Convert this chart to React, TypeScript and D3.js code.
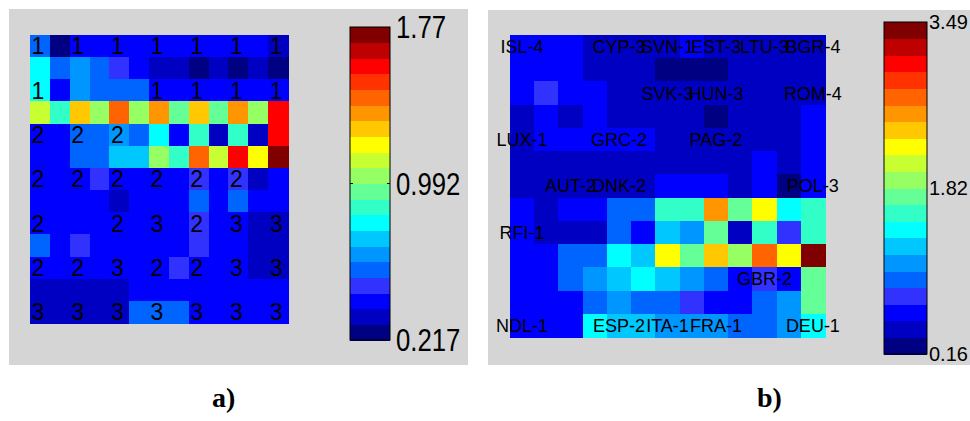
import React from 'react';
import * as d3 from 'd3';

// ---------- Data ----------
const A_MIN = 0.217;
const A_MAX = 1.77;
const A_TICK_VALUES = [0.217, 0.9935, 1.77];
const A_TICK_LABELS = ['0.217', '0.992', '1.77'];
const A_VALUES: number[][] = [
  [0.57, 0.26, 0.41, 0.41, 0.41, 0.41, 0.41, 0.41, 0.41, 0.41, 0.41, 0.41, 0.33],
  [0.80, 0.57, 0.64, 0.57, 0.49, 0.41, 0.33, 0.33, 0.26, 0.33, 0.26, 0.33, 0.26],
  [0.80, 0.41, 0.64, 0.57, 0.57, 0.57, 0.41, 0.41, 0.41, 0.41, 0.41, 0.41, 0.41],
  [1.11, 0.88, 1.27, 1.03, 1.42, 1.03, 1.34, 0.96, 1.27, 0.96, 1.34, 1.03, 1.58],
  [0.41, 0.41, 0.57, 0.57, 0.64, 0.57, 0.80, 0.41, 0.88, 0.33, 0.88, 0.33, 1.58],
  [0.41, 0.41, 0.57, 0.57, 0.72, 0.72, 1.03, 0.88, 1.42, 1.11, 1.58, 1.19, 1.73],
  [0.41, 0.41, 0.41, 0.49, 0.41, 0.41, 0.41, 0.41, 0.49, 0.41, 0.49, 0.33, 0.41],
  [0.41, 0.41, 0.41, 0.41, 0.33, 0.41, 0.41, 0.41, 0.57, 0.41, 0.57, 0.41, 0.41],
  [0.41, 0.41, 0.41, 0.41, 0.41, 0.41, 0.41, 0.41, 0.49, 0.41, 0.41, 0.33, 0.33],
  [0.57, 0.41, 0.49, 0.41, 0.41, 0.41, 0.41, 0.41, 0.49, 0.41, 0.41, 0.33, 0.33],
  [0.41, 0.41, 0.41, 0.41, 0.41, 0.41, 0.41, 0.49, 0.41, 0.41, 0.41, 0.33, 0.33],
  [0.33, 0.33, 0.33, 0.33, 0.33, 0.41, 0.41, 0.41, 0.41, 0.41, 0.41, 0.41, 0.41],
  [0.33, 0.33, 0.33, 0.33, 0.33, 0.57, 0.57, 0.57, 0.41, 0.41, 0.41, 0.41, 0.41],
];
// [row, col, text]
const A_LABELS: [number, number, string][] = [
  [0, 0, '1'], [0, 2, '1'], [0, 4, '1'], [0, 6, '1'], [0, 8, '1'], [0, 10, '1'], [0, 12, '1'],
  [2, 0, '1'], [2, 6, '1'], [2, 8, '1'], [2, 10, '1'], [2, 12, '1'],
  [4, 0, '2'], [4, 2, '2'], [4, 4, '2'],
  [6, 0, '2'], [6, 2, '2'], [6, 4, '2'], [6, 6, '2'], [6, 8, '2'], [6, 10, '2'],
  [8, 0, '2'], [8, 4, '2'], [8, 6, '3'], [8, 8, '2'], [8, 10, '3'], [8, 12, '3'],
  [10, 0, '2'], [10, 2, '2'], [10, 4, '3'], [10, 6, '2'], [10, 8, '2'], [10, 10, '3'], [10, 12, '3'],
  [12, 0, '3'], [12, 2, '3'], [12, 4, '3'], [12, 6, '3'], [12, 8, '3'], [12, 10, '3'], [12, 12, '3'],
];

const B_MIN = 0.16;
const B_MAX = 3.49;
const B_TICK_VALUES = [0.16, 1.825, 3.49];
const B_TICK_LABELS = ['0.16', '1.82', '3.49'];
const B_VALUES: number[][] = [
  [0.58, 0.58, 0.58, 0.40, 0.40, 0.40, 0.40, 0.58, 0.40, 0.40, 0.40, 0.40, 0.40],
  [0.58, 0.58, 0.58, 0.40, 0.40, 0.40, 0.24, 0.24, 0.24, 0.40, 0.40, 0.40, 0.40],
  [0.58, 0.74, 0.58, 0.58, 0.40, 0.40, 0.40, 0.40, 0.40, 0.40, 0.40, 0.40, 0.40],
  [0.40, 0.58, 0.40, 0.58, 0.40, 0.40, 0.40, 0.40, 0.24, 0.40, 0.40, 0.40, 0.58],
  [0.40, 0.58, 0.58, 0.58, 0.58, 0.58, 0.40, 0.40, 0.40, 0.40, 0.40, 0.40, 0.58],
  [0.40, 0.40, 0.40, 0.40, 0.40, 0.40, 0.40, 0.40, 0.40, 0.40, 0.58, 0.40, 0.58],
  [0.40, 0.40, 0.40, 0.40, 0.40, 0.40, 0.58, 0.58, 0.58, 0.40, 0.58, 0.24, 0.58],
  [0.58, 0.40, 0.58, 0.58, 0.90, 0.90, 1.57, 1.57, 2.57, 1.74, 2.24, 1.41, 1.57],
  [0.58, 0.40, 0.40, 0.40, 0.90, 0.58, 1.24, 1.08, 1.74, 0.40, 1.57, 0.74, 1.57],
  [0.58, 0.58, 0.90, 0.90, 1.41, 1.24, 2.24, 1.74, 2.41, 1.91, 2.74, 2.24, 3.41],
  [0.58, 0.58, 0.90, 1.08, 1.24, 1.41, 1.24, 1.08, 0.90, 0.58, 0.74, 0.58, 1.74],
  [0.58, 0.58, 0.58, 0.90, 1.08, 0.90, 0.90, 0.74, 0.58, 0.58, 0.90, 1.08, 1.74],
  [0.58, 0.58, 0.58, 1.41, 1.24, 1.24, 1.08, 1.08, 1.08, 0.90, 0.90, 1.08, 1.41],
];
const B_LABELS: [number, number, string][] = [
  [0, 0, 'ISL-4'], [0, 4, 'CYP-3'], [0, 6, 'SVN-1'], [0, 8, 'EST-3'], [0, 10, 'LTU-3'], [0, 12, 'BGR-4'],
  [2, 6, 'SVK-3'], [2, 8, 'HUN-3'], [2, 12, 'ROM-4'],
  [4, 0, 'LUX-1'], [4, 4, 'GRC-2'], [4, 8, 'PAG-2'],
  [6, 2, 'AUT-2'], [6, 4, 'DNK-2'], [6, 12, 'POL-3'],
  [8, 0, 'RFI-1'],
  [10, 10, 'GBR-2'],
  [12, 0, 'NDL-1'], [12, 4, 'ESP-2'], [12, 6, 'ITA-1'], [12, 8, 'FRA-1'], [12, 12, 'DEU-1'],
];

// ---------- Style ----------
const PALETTE = [
  '#000082', '#0000c3', '#0000ff', '#3232ff', '#0064ff', '#0096ff', '#00c8ff', '#00ffff',
  '#32ffc8', '#64ff96', '#96ff64', '#c8ff32', '#ffff00', '#ffc800', '#ff9600', '#ff6400',
  '#ff3200', '#ff0000', '#be0000', '#800000',
];
const BG = '#d5d5d5';
const SANS = '"Liberation Sans", Arial, sans-serif';

type PanelProps = {
  bg: [number, number, number, number];
  grid: [number, number, number, number];
  bar: [number, number, number, number];
  values: number[][];
  labels: [number, number, string][];
  min: number;
  max: number;
  tickValues: number[];
  tickLabels: string[];
  cellFont: number;
  cellDx: number;
  barFont: number;
  barScaleX: number;
  barLabelX: number;
  midTicks: boolean;
};

function Panel(p: PanelProps) {
  const n = p.values.length;
  const m = p.values[0].length;
  const [gx, gy, gw, gh] = p.grid;
  const xs = d3.scaleBand<number>().domain(d3.range(m)).range([gx, gx + gw]).padding(0);
  const ys = d3.scaleBand<number>().domain(d3.range(n)).range([gy, gy + gh]).padding(0);
  const color = d3.scaleQuantize<string>().domain([p.min, p.max]).range(PALETTE);
  const [bx, by, bw, bh] = p.bar;
  const vy = d3.scaleLinear().domain([p.min, p.max]).range([by + bh, by]);
  const step = (p.max - p.min) / PALETTE.length;
  return (
    <g>
      <rect x={p.bg[0]} y={p.bg[1]} width={p.bg[2]} height={p.bg[3]} fill={BG} />
      {p.values.map((row, r) =>
        row.map((v, c) => (
          <rect
            key={`${r}-${c}`}
            x={xs(c)}
            y={ys(r)}
            width={xs.bandwidth() + 0.5}
            height={ys.bandwidth() + 0.5}
            fill={color(v)}
            shapeRendering="crispEdges"
          />
        ))
      )}
      {p.labels.map(([r, c, t], i) => (
        <text
          key={i}
          x={(xs(c) as number) + xs.bandwidth() / 2 + p.cellDx}
          y={(ys(r) as number) + ys.bandwidth() / 2}
          dy="0.36em"
          textAnchor="middle"
          fontFamily={SANS}
          fontSize={p.cellFont}
          fill="#000"
        >
          {t}
        </text>
      ))}
      {PALETTE.map((col, i) => {
        const y0 = vy(p.min + i * step);
        const y1 = vy(p.min + (i + 1) * step);
        return (
          <rect key={i} x={bx} y={y1} width={bw} height={y0 - y1 + 0.5} fill={col} shapeRendering="crispEdges" />
        );
      })}
      <rect x={bx} y={by} width={bw} height={bh} fill="none" stroke="#000" strokeWidth={1} />
      {p.midTicks && (
        <g stroke="#000" strokeWidth={1}>
          <line x1={bx} x2={bx + 3} y1={vy(p.tickValues[1])} y2={vy(p.tickValues[1])} />
          <line x1={bx + bw - 3} x2={bx + bw} y1={vy(p.tickValues[1])} y2={vy(p.tickValues[1])} />
        </g>
      )}
      {p.tickValues.map((v, i) => (
        <text
          key={i}
          transform={`translate(${p.barLabelX},${vy(v)}) scale(${p.barScaleX},1)`}
          dy="0.36em"
          fontFamily={SANS}
          fontSize={p.barFont}
          fill="#000"
        >
          {p.tickLabels[i]}
        </text>
      ))}
    </g>
  );
}

export default function App() {
  return (
    <svg
      width={970}
      height={421}
      style={{ position: 'absolute', left: 0, top: 0, background: '#fff' }}
    >
      <Panel
        bg={[9, 9, 459, 356]}
        grid={[30, 35, 258, 288]}
        bar={[350, 27, 40, 313]}
        values={A_VALUES}
        labels={A_LABELS}
        min={A_MIN}
        max={A_MAX}
        tickValues={A_TICK_VALUES}
        tickLabels={A_TICK_LABELS}
        cellFont={23}
        cellDx={-2}
        barFont={31}
        barScaleX={0.83}
        barLabelX={396}
        midTicks={true}
      />
      <Panel
        bg={[488, 10, 482, 355]}
        grid={[510, 35, 315, 302]}
        bar={[884, 22, 43, 332]}
        values={B_VALUES}
        labels={B_LABELS}
        min={B_MIN}
        max={B_MAX}
        tickValues={B_TICK_VALUES}
        tickLabels={B_TICK_LABELS}
        cellFont={18}
        cellDx={0}
        barFont={20}
        barScaleX={1}
        barLabelX={929}
        midTicks={false}
      />
      <text x={212} y={407} fontFamily='"Liberation Serif", "Times New Roman", serif' fontWeight="bold" fontSize={28} fill="#000">
        a)
      </text>
      <text x={757} y={407} fontFamily='"Liberation Serif", "Times New Roman", serif' fontWeight="bold" fontSize={28} fill="#000">
        b)
      </text>
    </svg>
  );
}
